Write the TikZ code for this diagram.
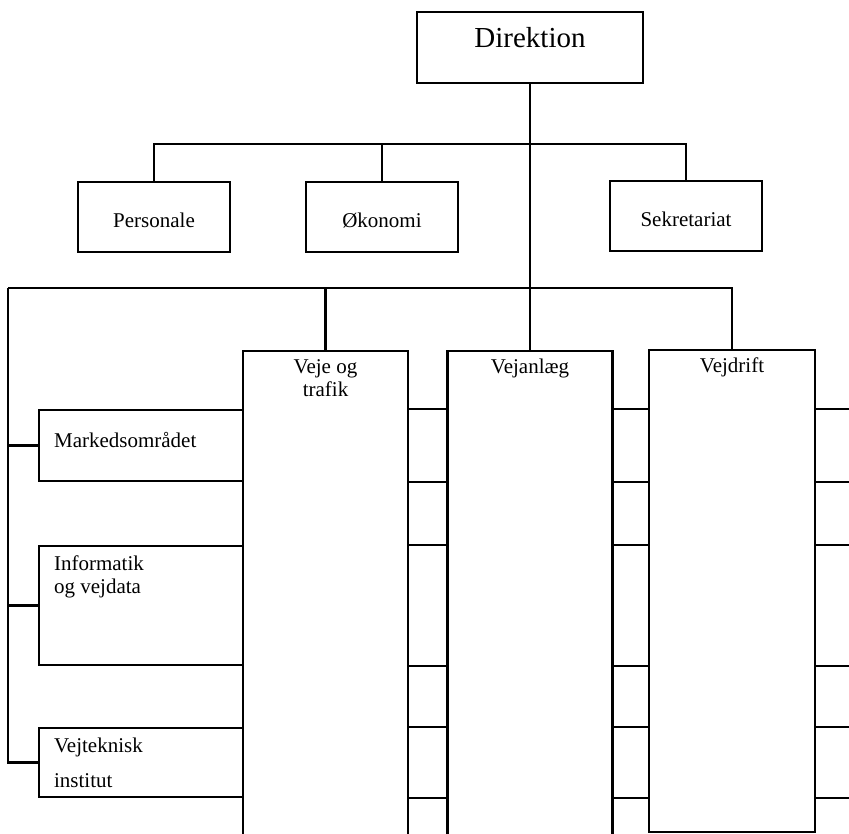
\documentclass[tikz,border=0pt]{standalone}
\usepackage{fontspec}
\setmainfont{Liberation Serif}
\usetikzlibrary{positioning}

\begin{document}
\begin{tikzpicture}[x=1pt, y=-1pt,
    box/.style={draw, line width=2.2pt, rectangle, inner sep=0pt},
    txt/.style={inner sep=0pt, font=\fontsize{21}{23}\selectfont},
    conn/.style={line width=2.2pt}]

      \useasboundingbox (0,0) rectangle (849,833);

      \node[box, minimum width=226pt, minimum height=71pt] (dir) at (530,47.5) {};
      \node[box, minimum width=152pt, minimum height=70pt] (per) at (154,217) {};
      \node[box, minimum width=152pt, minimum height=70pt] (oko) at (382,217) {};
      \node[box, minimum width=152pt, minimum height=70pt] (sek) at (686,216) {};

      \node[box, minimum width=165pt, minimum height=499pt] (vt) at (325.5,600.5) {};
      \node[box, minimum width=165pt, minimum height=499pt] (va) at (530,600.5) {};
      \node[box, minimum width=166pt, minimum height=482pt] (vd) at (732,591) {};

      \node[box, minimum width=204pt, minimum height=71pt] (mk) at (141,445.5) {};
      \node[box, minimum width=204pt, minimum height=119pt] (inf) at (141,605.5) {};
      \node[box, minimum width=204pt, minimum height=69pt] (vtk) at (141,762.5) {};

      \node[txt, font=\fontsize{29}{31}\selectfont, yshift=10pt] (dirtxt) at (dir) {Direktion};
      \node[txt, yshift=-3pt] (pertxt) at (per) {Personale};
      \node[txt, yshift=-3pt] (okotxt) at (oko) {Økonomi};
      \node[txt, yshift=-3pt] (sektxt) at (sek) {Sekretariat};

      \node[txt, align=center, below=9pt of vt.north] (vttxt) {Veje og\\trafik};
      \node[txt, below=9pt of va.north] (vatxt) {Vejanlæg};
      \node[txt, below=9pt of vd.north] (vdtxt) {Vejdrift};

      \node[txt, right=16pt of mk.west, yshift=6pt] (mktxt) {Markedsområdet};
      \node[txt, align=left, below right=11pt and 16pt of inf.north west] (inftxt) {Informatik\\og vejdata};
      \node[txt, align=left, below right=11pt and 16pt of vtk.north west] (vtktxt) {Vejteknisk\\[12pt]institut};

      \coordinate (tbar) at (530,144);
      \coordinate (lft) at (8,288);
      \coordinate (redge) at (856,0);

      \draw[conn] (dir.south) -- (va.north);
      \draw[conn] (per.north) |- (tbar) -| (sek.north);
      \draw[conn] (oko.north) -- (oko.north |- tbar);

      \draw[conn] (lft) -| (vd.north);
      \draw[conn] (vt.north) -- (vt.north |- lft);
      \draw[conn] (lft) |- (vtk.west);
      \draw[conn] (lft |- mk.west) -- (mk.west);
      \draw[conn] (lft |- inf.west) -- (inf.west);

      \foreach \b/\s in {mk/north, mk/south, inf/north, inf/south, vtk/north, vtk/south}{
        \draw[conn] (vt.east |- \b.\s) -- (va.west |- \b.\s);
        \draw[conn] (va.east |- \b.\s) -- (vd.west |- \b.\s);
        \draw[conn] (vd.east |- \b.\s) -- (redge |- \b.\s);
      }
\end{tikzpicture}
\end{document}
